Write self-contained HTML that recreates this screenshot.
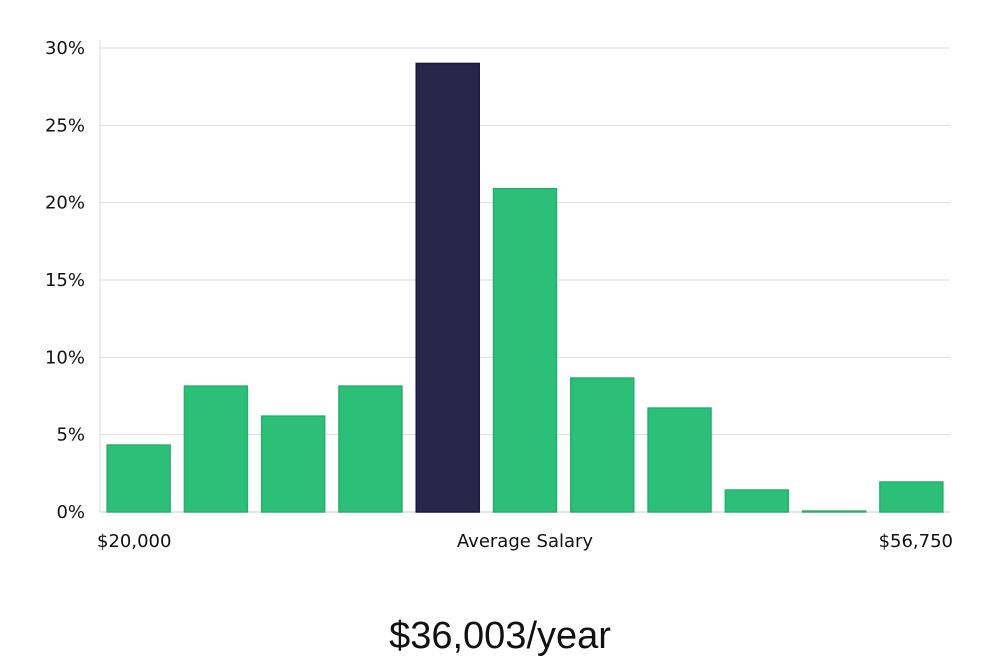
<!DOCTYPE html>
<html><head><meta charset="utf-8"><style>
body{margin:0;background:#fff;width:1000px;height:660px;overflow:hidden;font-family:"DejaVu Sans","Liberation Sans",sans-serif;}
</style></head><body>
<svg id="chart" width="1000" height="660" xmlns="http://www.w3.org/2000/svg"></svg>
<script>
const categories=["b1","b2","b3","b4","b5","b6","b7","b8","b9","b10","b11"];
const values=[4.33,8.14,6.2,8.14,29.0,20.9,8.66,6.72,1.42,0.06,1.94];
const highlightIndex=4;
const yTicks=[0,5,10,15,20,25,30];
const xLabels=["$20,000","Average Salary","$56,750"];
const title="$36,003/year";
const svg=document.getElementById('chart');
const NS="http://www.w3.org/2000/svg";
const L=100,R=950,T=48,B=512,yMax=30;
const y=v=>B-(v/yMax)*(B-T);
const band=(R-L)/categories.length;
const x=i=>L+i*band;
function mk(tag,attrs,parent){const e=document.createElementNS(NS,tag);for(const k in attrs)e.setAttribute(k,attrs[k]);(parent||svg).appendChild(e);return e;}
const grid=mk('g',{});


yTicks.forEach(t=>{
  const ln=mk('line',{x1:L,x2:R,y1:y(t),y2:y(t),stroke:t===0?'#ccc':'#ddd','stroke-width':1},grid);
  
  
  const tx=mk('text',{x:85,y:y(t)+6,'text-anchor':'end','font-size':18,fill:'#111'});
  tx.textContent=t+'%';
  
  
});
const ax=mk('line',{x1:L,x2:L,y1:40,y2:B,stroke:'#ddd','stroke-width':1});


values.forEach((v,i)=>{
  const w=band*0.815;
  const r=mk('rect',{x:x(i)+(band-w)/2,y:y(v),width:w,height:B-y(v),fill:i===highlightIndex?'#29254a':'#2bbf77',stroke:i===highlightIndex?'#1a1733':'#22b06c','stroke-width':1.5});
  
  
});
const xl=[[97,'start'],[525,'middle'],[953,'end']];
xLabels.forEach((s,i)=>{
  const t=mk('text',{x:xl[i][0],y:547,'text-anchor':xl[i][1],'font-size':18,fill:'#111'});
  t.textContent=s;
  
  
});
const tt=mk('text',{x:500,y:648,'text-anchor':'middle','font-size':38,fill:'#111','font-family':'"Liberation Sans",sans-serif'});
tt.textContent=title;


</script>
</body></html>
